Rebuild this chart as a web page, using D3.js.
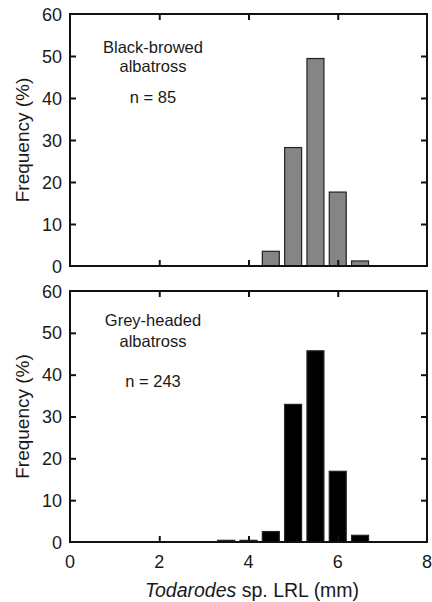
<!DOCTYPE html>
<html>
<head>
<meta charset="utf-8">
<script src="https://cdn.jsdelivr.net/npm/d3@7"></script>
<style>
  body { margin: 0; background: #fff; }
  text { font-family: "Liberation Sans", Arial, sans-serif; fill: #1a1a1a; }
</style>
</head>
<body>
<div class="svgcontainer"></div>
<script>
// bin centres (mm), 0.5 mm classes
const binsBlack = [4.5, 5.0, 5.5, 6.0, 6.5];
const freqBlack = [3.5, 28.2, 49.4, 17.6, 1.2];
const binsGrey = [3.5, 4.0, 4.5, 5.0, 5.5, 6.0, 6.5];
const freqGrey = [0.4, 0.4, 2.5, 32.9, 45.7, 16.9, 1.6];
const xTicks = [0, 2, 4, 6, 8];
const yTicks = [0, 10, 20, 30, 40, 50, 60];

const W = 432, H = 602;
const left = 70, right = 427;

const svg = d3.select('.svgcontainer')
    .append('svg')
    .attr('width', W)
    .attr('height', H);

const x = d3.scaleLinear().domain([0, 8]).range([left, right]);

function drawPanel(top, bottom, bins, freqs, fill, lines) {
    const y = d3.scaleLinear().domain([0, 60]).range([bottom, top]);
    const g = svg.append('g');
    const barW = x(0.38) - x(0);

    // bars
    g.selectAll('.bar')
        .data(bins.map((b, i) => ({ b, f: freqs[i] })))
        .enter()
        .append('rect')
        .attr('x', d => x(d.b) - barW / 2)
        .attr('y', d => y(d.f))
        .attr('width', barW)
        .attr('height', d => y(0) - y(d.f))
        .attr('fill', fill)
        .attr('stroke', '#222')
        .attr('stroke-width', 1.2);

    // inward ticks on all four sides
    const tl = 6;
    g.append('g').attr('transform', `translate(${left},0)`)
        .call(d3.axisRight(y).tickValues(yTicks.slice(1, -1)).tickSize(tl).tickFormat(''));
    g.append('g').attr('transform', `translate(${right},0)`)
        .call(d3.axisLeft(y).tickValues(yTicks.slice(1, -1)).tickSize(tl).tickFormat(''));
    g.append('g').attr('transform', `translate(0,${top})`)
        .call(d3.axisBottom(x).tickValues(xTicks.slice(1, -1)).tickSize(tl).tickFormat(''));
    g.append('g').attr('transform', `translate(0,${bottom})`)
        .call(d3.axisTop(x).tickValues(xTicks.slice(1, -1)).tickSize(tl).tickFormat(''));
    g.selectAll('.domain').remove();
    g.selectAll('.tick line').attr('stroke', '#111').attr('stroke-width', 2);

    // frame
    g.append('rect')
        .attr('x', left).attr('y', top)
        .attr('width', right - left).attr('height', bottom - top)
        .attr('fill', 'none')
        .attr('stroke', '#111')
        .attr('stroke-width', 2);

    // y tick labels
    g.selectAll('.ylab')
        .data(yTicks)
        .enter()
        .append('text')
        .attr('x', left - 8)
        .attr('y', d => y(d) + 6.5)
        .attr('text-anchor', 'end')
        .attr('font-size', 18)
        .text(d => d);

    // y title
    g.append('text')
        .attr('transform', `translate(29,${(top + bottom) / 2}) rotate(-90)`)
        .attr('text-anchor', 'middle')
        .attr('font-size', 19)
        .text('Frequency (%)');

    // species label
    g.selectAll('.lab')
        .data(lines)
        .enter()
        .append('text')
        .attr('x', 153)
        .attr('y', d => top + d.dy)
        .attr('text-anchor', 'middle')
        .attr('font-size', 16.5)
        .text(d => d.t);

    return y;
}

drawPanel(14, 266, binsBlack, freqBlack, '#858585', [
    { t: 'Black-browed', dy: 39 },
    { t: 'albatross', dy: 58 },
    { t: 'n = 85', dy: 89 }
]);
drawPanel(291, 542, binsGrey, freqGrey, '#000', [
    { t: 'Grey-headed', dy: 35 },
    { t: 'albatross', dy: 56 },
    { t: 'n = 243', dy: 96 }
]);

// x tick labels under the lower panel
svg.selectAll('.xlab')
    .data(xTicks)
    .enter()
    .append('text')
    .attr('x', d => x(d))
    .attr('y', 568)
    .attr('text-anchor', 'middle')
    .attr('font-size', 18)
    .text(d => d);

const xt = svg.append('text')
    .attr('x', 252)
    .attr('y', 597)
    .attr('text-anchor', 'middle')
    .attr('font-size', 19.5);
xt.append('tspan').attr('font-style', 'italic').text('Todarodes');
xt.append('tspan').text(' sp. LRL (mm)');
</script>
</body>
</html>
